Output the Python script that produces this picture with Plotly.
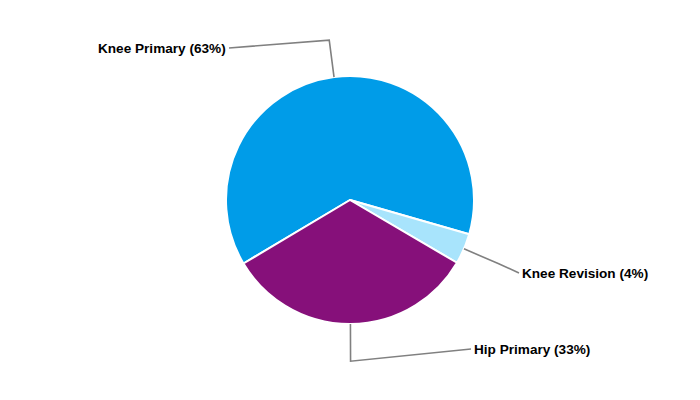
import math
import plotly.graph_objects as go

categories = ["Knee Primary", "Knee Revision", "Hip Primary"]
values = [63, 4, 33]
colors = ["#009CE8", "#A8E4FC", "#86107A"]

W, H = 700, 400
CX, CY, R = 350, 200, 124          # pie centre / radius in px
ROTATION = -120.8
ELBOW = 1.3
# label anchor (px) and anchor side for each category
label_pos = {
    "Knee Primary": (229, 48, "right"),
    "Knee Revision": (519, 273, "left"),
    "Hip Primary": (471, 349, "left"),
}

def px(x):
    return x / W

def py(y):
    return 1 - y / H

fig = go.Figure(go.Pie(
    labels=categories, values=values, sort=False, direction="clockwise",
    rotation=ROTATION, textinfo="none", hoverinfo="label+percent",
    marker=dict(colors=colors, line=dict(color="white", width=2)),
    domain=dict(x=[px(CX - R), px(CX + R)], y=[py(CY + R), py(CY - R)]),
    showlegend=False,
))

total = sum(values)
angle = ROTATION
shapes, annotations = [], []
for cat, v in zip(categories, values):
    span = v / total * 360
    mid = math.radians(angle + span / 2)
    angle += span
    ex, ey = CX + R * math.sin(mid), CY - R * math.cos(mid)
    bx, by = CX + R * ELBOW * math.sin(mid), CY - R * ELBOW * math.cos(mid)
    lx, ly, side = label_pos[cat]
    shapes.append(dict(
        type="path", xref="paper", yref="paper",
        path=f"M {px(ex)} {py(ey)} L {px(bx)} {py(by)} L {px(lx)} {py(ly)}",
        line=dict(color="#808080", width=1.6),
    ))
    pct = round(v / total * 100)
    annotations.append(dict(
        x=px(lx + (1 if side == "left" else -1)), y=py(ly), xref="paper", yref="paper",
        text=f"<b>{cat} ({pct}%)</b>", showarrow=False,
        xanchor=side, yanchor="middle",
        font=dict(family="Liberation Sans, Arial", size=13.6, color="#000000"),
    ))

fig.update_layout(
    width=W, height=H, margin=dict(l=0, r=0, t=0, b=0),
    paper_bgcolor="white", plot_bgcolor="white",
    shapes=shapes, annotations=annotations,
)
fig.write_html("out.html", config={"displayModeBar": False},
               post_script="document.body.style.margin='0';")
